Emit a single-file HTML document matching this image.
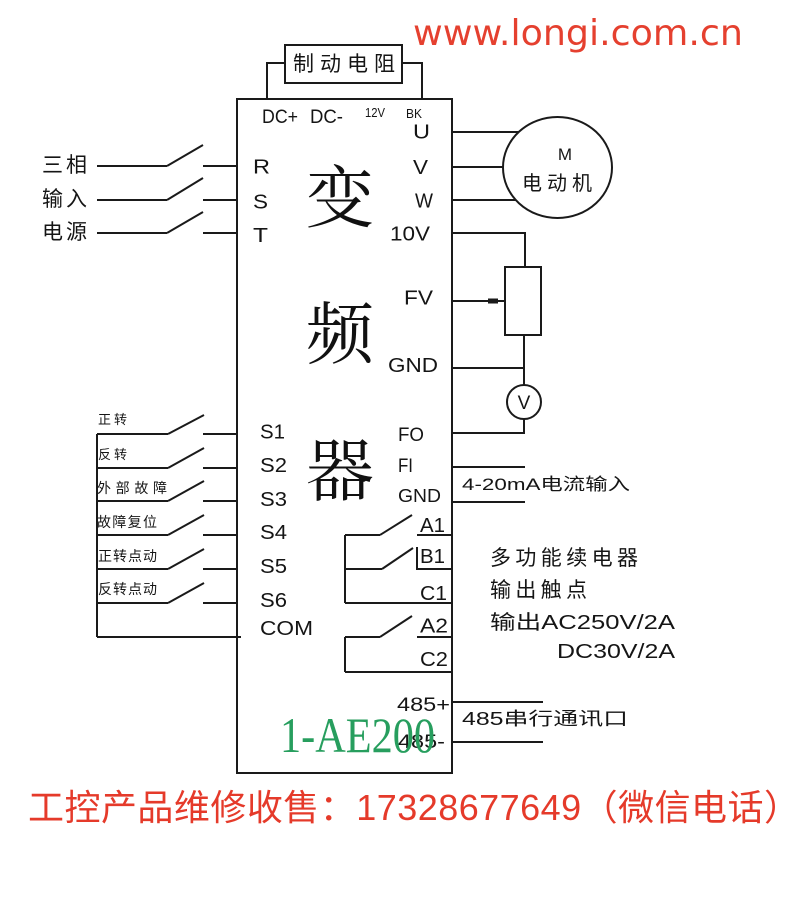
<!DOCTYPE html>
<html><head><meta charset="utf-8"><style>
html,body{margin:0;padding:0;background:#fff;}
svg{display:block;}
.l{font-family:"Liberation Sans",Arial,sans-serif;fill:#151515;}
.c{font-family:"Liberation Sans","Noto Sans CJK SC",sans-serif;fill:#151515;}
</style></head><body>
<svg width="800" height="922" viewBox="0 0 800 922" xmlns="http://www.w3.org/2000/svg">
<rect x="0" y="0" width="800" height="922" fill="#fff"/>
<g stroke="#1a1a1a" stroke-width="2" fill="none">
<rect x="237" y="99" width="215" height="674"/>
<rect x="285" y="45" width="117" height="38"/>
<polyline points="267,99 267,63 285,63"/>
<polyline points="402,63 422,63 422,99"/>
<line x1="97" y1="166" x2="167" y2="166"/><line x1="167" y1="166" x2="203" y2="145"/><line x1="203" y1="166" x2="237" y2="166"/>
<line x1="97" y1="200" x2="167" y2="200"/><line x1="167" y1="200" x2="203" y2="178"/><line x1="203" y1="200" x2="237" y2="200"/>
<line x1="97" y1="233" x2="167" y2="233"/><line x1="167" y1="233" x2="203" y2="212"/><line x1="203" y1="233" x2="237" y2="233"/>
<line x1="97" y1="434" x2="97" y2="637"/>
<line x1="97" y1="434" x2="168" y2="434"/><line x1="168" y1="434" x2="204" y2="415"/><line x1="203" y1="434" x2="237" y2="434"/>
<line x1="97" y1="468" x2="168" y2="468"/><line x1="168" y1="468" x2="204" y2="448"/><line x1="203" y1="468" x2="237" y2="468"/>
<line x1="97" y1="501" x2="168" y2="501"/><line x1="168" y1="501" x2="204" y2="481"/><line x1="203" y1="501" x2="237" y2="501"/>
<line x1="97" y1="535" x2="168" y2="535"/><line x1="168" y1="535" x2="204" y2="515"/><line x1="203" y1="535" x2="237" y2="535"/>
<line x1="97" y1="569" x2="168" y2="569"/><line x1="168" y1="569" x2="204" y2="549"/><line x1="203" y1="569" x2="237" y2="569"/>
<line x1="97" y1="603" x2="168" y2="603"/><line x1="168" y1="603" x2="204" y2="583"/><line x1="203" y1="603" x2="237" y2="603"/>
<line x1="97" y1="637" x2="241" y2="637"/>
<ellipse cx="557.5" cy="167.5" rx="54.5" ry="50.5"/>
<line x1="452" y1="132" x2="519" y2="132"/>
<line x1="452" y1="167" x2="503" y2="167"/>
<line x1="452" y1="200" x2="516" y2="200"/>
<polyline points="452,233 525,233 525,267"/>
<rect x="505" y="267" width="36" height="68"/>
<line x1="452" y1="301" x2="505" y2="301"/>
<line x1="524" y1="335" x2="524" y2="385"/>
<line x1="452" y1="368" x2="524" y2="368"/>
<circle cx="524" cy="402" r="17"/>
<polyline points="524,419 524,433 452,433"/>
<line x1="452" y1="467" x2="525" y2="467"/>
<line x1="452" y1="502" x2="525" y2="502"/>
<line x1="345" y1="535" x2="345" y2="603"/>
<line x1="345" y1="535" x2="380" y2="535"/><line x1="380" y1="535" x2="412" y2="515"/>
<line x1="417" y1="535" x2="453" y2="535"/>
<line x1="345" y1="569" x2="382" y2="569"/><line x1="382" y1="569" x2="413" y2="548"/>
<polyline points="417,547 417,569 453,569"/>
<line x1="345" y1="603" x2="453" y2="603"/>
<line x1="345" y1="637" x2="345" y2="672"/>
<line x1="345" y1="637" x2="380" y2="637"/><line x1="380" y1="637" x2="412" y2="616"/>
<line x1="417" y1="637" x2="453" y2="637"/>
<line x1="345" y1="672" x2="453" y2="672"/>
<line x1="452" y1="702" x2="543" y2="702"/>
<line x1="452" y1="742" x2="543" y2="742"/>
</g>
<line x1="488" y1="301" x2="498" y2="301" stroke="#1a1a1a" stroke-width="5"/>

<text x="413" y="45" font-family="DejaVu Sans, sans-serif" font-size="36" fill="#e5402f" textLength="330" lengthAdjust="spacingAndGlyphs">www.longi.com.cn</text>

<text class="c" x="293" y="71" font-size="21" textLength="102" lengthAdjust="spacing">制动电阻</text>

<text class="l" x="262" y="123" font-size="19" textLength="36" lengthAdjust="spacingAndGlyphs">DC+</text>
<text class="l" x="310" y="123" font-size="19" textLength="33" lengthAdjust="spacingAndGlyphs">DC-</text>
<text class="l" x="365" y="117" font-size="13" textLength="20" lengthAdjust="spacingAndGlyphs">12V</text>
<text class="l" x="406" y="118" font-size="13" textLength="16" lengthAdjust="spacingAndGlyphs">BK</text>

<text class="l" x="413" y="138.5" font-size="20" textLength="17" lengthAdjust="spacingAndGlyphs">U</text>
<text class="l" x="413" y="174" font-size="20" textLength="15" lengthAdjust="spacingAndGlyphs">V</text>
<text class="l" x="415" y="207.5" font-size="20" textLength="18" lengthAdjust="spacingAndGlyphs">W</text>
<text class="l" x="390" y="240.5" font-size="20" textLength="40" lengthAdjust="spacingAndGlyphs">10V</text>
<text class="l" x="404" y="304.5" font-size="20" textLength="29" lengthAdjust="spacingAndGlyphs">FV</text>
<text class="l" x="388" y="372" font-size="20" textLength="50" lengthAdjust="spacingAndGlyphs">GND</text>
<text class="l" x="398" y="441" font-size="19" textLength="26" lengthAdjust="spacingAndGlyphs">FO</text>
<text class="l" x="398" y="472" font-size="19" textLength="15" lengthAdjust="spacingAndGlyphs">FI</text>
<text class="l" x="398" y="502" font-size="18" textLength="43" lengthAdjust="spacingAndGlyphs">GND</text>
<text class="l" x="420" y="532" font-size="20" textLength="25" lengthAdjust="spacingAndGlyphs">A1</text>
<text class="l" x="420" y="563" font-size="20" textLength="25" lengthAdjust="spacingAndGlyphs">B1</text>
<text class="l" x="420" y="600" font-size="20" textLength="27" lengthAdjust="spacingAndGlyphs">C1</text>
<text class="l" x="420" y="632.5" font-size="20" textLength="28" lengthAdjust="spacingAndGlyphs">A2</text>
<text class="l" x="420" y="666" font-size="20" textLength="28" lengthAdjust="spacingAndGlyphs">C2</text>
<text class="l" x="397" y="711" font-size="19" textLength="53" lengthAdjust="spacingAndGlyphs">485+</text>
<text class="l" x="398" y="748" font-size="19" textLength="47" lengthAdjust="spacingAndGlyphs">485-</text>

<text class="l" x="253" y="173.5" font-size="20" textLength="17" lengthAdjust="spacingAndGlyphs">R</text>
<text class="l" x="253" y="208.5" font-size="20" textLength="15" lengthAdjust="spacingAndGlyphs">S</text>
<text class="l" x="253" y="242" font-size="20" textLength="15" lengthAdjust="spacingAndGlyphs">T</text>
<text class="l" x="260" y="438.5" font-size="20" textLength="25" lengthAdjust="spacingAndGlyphs">S1</text>
<text class="l" x="260" y="472" font-size="20" textLength="27" lengthAdjust="spacingAndGlyphs">S2</text>
<text class="l" x="260" y="506" font-size="20" textLength="27" lengthAdjust="spacingAndGlyphs">S3</text>
<text class="l" x="260" y="539" font-size="20" textLength="27" lengthAdjust="spacingAndGlyphs">S4</text>
<text class="l" x="260" y="573" font-size="20" textLength="27" lengthAdjust="spacingAndGlyphs">S5</text>
<text class="l" x="260" y="607" font-size="20" textLength="27" lengthAdjust="spacingAndGlyphs">S6</text>
<text class="l" x="260" y="635" font-size="20" textLength="53" lengthAdjust="spacingAndGlyphs">COM</text>

<text class="c" x="42" y="172" font-size="21" textLength="45" lengthAdjust="spacing">三相</text>
<text class="c" x="42" y="206" font-size="21" textLength="45" lengthAdjust="spacing">输入</text>
<text class="c" x="42" y="239" font-size="21" textLength="45" lengthAdjust="spacing">电源</text>

<text class="c" x="98" y="424" font-size="13" textLength="29" lengthAdjust="spacing">正转</text>
<text class="c" x="98" y="459" font-size="13" textLength="29" lengthAdjust="spacing">反转</text>
<text class="c" x="97" y="493" font-size="14" textLength="70" lengthAdjust="spacing">外部故障</text>
<text class="c" x="97" y="527" font-size="14" textLength="60" lengthAdjust="spacing">故障复位</text>
<text class="c" x="98" y="561" font-size="14" textLength="59" lengthAdjust="spacing">正转点动</text>
<text class="c" x="98" y="594" font-size="14" textLength="59" lengthAdjust="spacing">反转点动</text>

<text x="340" y="222" font-family="'Noto Serif CJK SC', serif" font-size="68" text-anchor="middle" fill="#111">变</text>
<text x="340" y="358" font-family="'Noto Serif CJK SC', serif" font-size="68" text-anchor="middle" fill="#111">频</text>
<text x="340" y="495" font-family="'Noto Serif CJK SC', serif" font-size="68" text-anchor="middle" fill="#111">器</text>

<text class="l" x="565" y="160" font-size="17" text-anchor="middle">M</text>
<text class="c" x="522" y="190" font-size="20" textLength="70" lengthAdjust="spacing">电动机</text>
<text class="l" x="524" y="409" font-size="19" text-anchor="middle">V</text>

<text class="c" x="462" y="490" font-size="17" textLength="168" lengthAdjust="spacingAndGlyphs">4-20mA电流输入</text>
<text class="c" x="490" y="565" font-size="21" textLength="148" lengthAdjust="spacing">多功能续电器</text>
<text class="c" x="490" y="597" font-size="21" textLength="97" lengthAdjust="spacing">输出触点</text>
<text class="c" x="490" y="629" font-size="20" textLength="185" lengthAdjust="spacingAndGlyphs">输出AC250V/2A</text>
<text class="c" x="557" y="658" font-size="20" textLength="118" lengthAdjust="spacingAndGlyphs">DC30V/2A</text>
<text class="c" x="462" y="725" font-size="18" textLength="166" lengthAdjust="spacingAndGlyphs">485串行通讯口</text>

<text x="280" y="752" font-family="'Liberation Serif', serif" font-size="50" fill="#279e5e" textLength="155" lengthAdjust="spacingAndGlyphs">1-AE200</text>

<text x="28" y="820" font-family="'Liberation Sans','Noto Sans CJK SC',sans-serif" font-size="36" fill="#e53a2a" textLength="772" lengthAdjust="spacing">工控产品维修收售：17328677649（微信电话）</text>
</svg>
</body></html>
